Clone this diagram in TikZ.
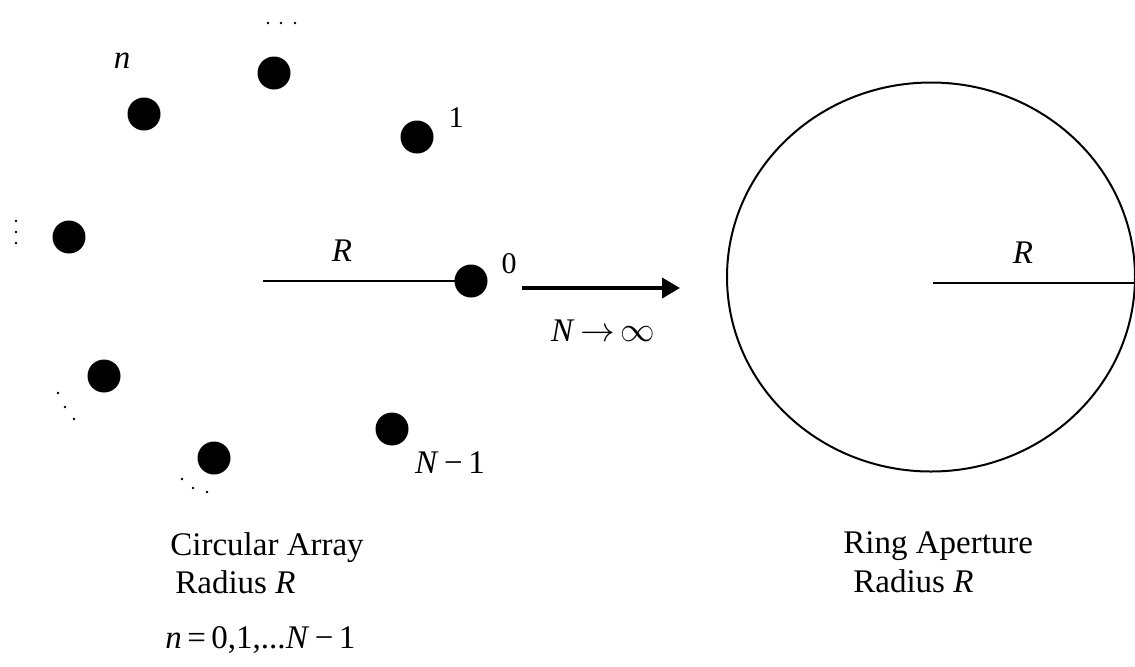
\documentclass[tikz,border=0pt]{standalone}
\usepackage{fontspec}
\setmainfont{Liberation Serif}
\usetikzlibrary{arrows.meta,shapes.geometric}
\begin{document}
\begin{tikzpicture}[x=0.5pt,y=-0.5pt,
  elem/.style={circle,fill=black,inner sep=0,minimum size=16.5pt},
  tdot/.style={circle,fill=black,inner sep=0,minimum size=1.3pt},
  lbl/.style={inner sep=0,font=\fontsize{16.5}{19}\selectfont},
  lbls/.style={inner sep=0,font=\fontsize{15}{18}\selectfont},
  thinline/.style={line width=1pt},
  bigarrow/.style={line width=2pt,-{Triangle[length=9pt,width=10pt]}},
  ring/.style={ellipse,draw,line width=1pt,inner sep=0,minimum width=204pt,minimum height=194.5pt}
]
\useasboundingbox (0,0) rectangle (1135,666);
% array elements
\node[elem] (e0) at (471,281) {};
\node[elem] (e1) at (417,137) {};
\node[elem] (et) at (274,73) {};
\node[elem] (en) at (144,114) {};
\node[elem] (el) at (69,237) {};
\node[elem] (ell) at (104,376) {};
\node[elem] (eb) at (214,458) {};
\node[elem] (eN) at (392,429) {};
% ellipsis dots
\node[tdot] (d1) at (268,23) {};
\node[tdot] (d2) at (281,23) {};
\node[tdot] (d3) at (295,23) {};
\node[tdot] (d4) at (16,221) {};
\node[tdot] (d5) at (16,232) {};
\node[tdot] (d6) at (16,243) {};
\node[tdot] (d7) at (58,393) {};
\node[tdot] (d8) at (65,407) {};
\node[tdot] (d9) at (74,419) {};
\node[tdot] (d10) at (182,479) {};
\node[tdot] (d11) at (193,488) {};
\node[tdot] (d12) at (207,492) {};
% element labels
\node[lbl] (ln) at (122,61) {\textit{n}};
\node[lbls] (l1) at (456,118) {1};
\node[lbls] (l0) at (509,264) {0};
\node[lbl] (lN) at (450,463) {\textit{N}\,−\,1};
% radius line of array
\coordinate (ac) at (263,281);
\draw[thinline] (ac) -- (e0.center);
\node[lbl] (rl) at (342,251) {\textit{R}};
% limit arrow
\coordinate (as) at (522,288);
\coordinate (ae) at (680,288);
\draw[bigarrow] (as) -- (ae);
\node[lbl] (lim) at (603,331) {\textit{N}\,$\rightarrow$\,$\mathbf{\infty}$};
% ring aperture
\node[ring] (rg) at (931,277) {};
\coordinate (rc) at (933,283);
\coordinate (re) at (1135,283);
\draw[thinline] (rc) -- (re);
\node[lbl] (rr) at (1023,253) {\textit{R}};
% captions
\node[lbl,anchor=base west] (c1) at (170,555) {Circular Array};
\node[lbl,anchor=base west] (c2) at (175,593) {Radius \textit{R}};
\node[lbl,anchor=base west] (c3) at (165,648) {\textit{n}\,=\,0,1,...\textit{N}\,−\,1};
\node[lbl,anchor=base west] (c4) at (843,553) {Ring Aperture};
\node[lbl,anchor=base west] (c5) at (853,592) {Radius \textit{R}};
\end{tikzpicture}
\end{document}
